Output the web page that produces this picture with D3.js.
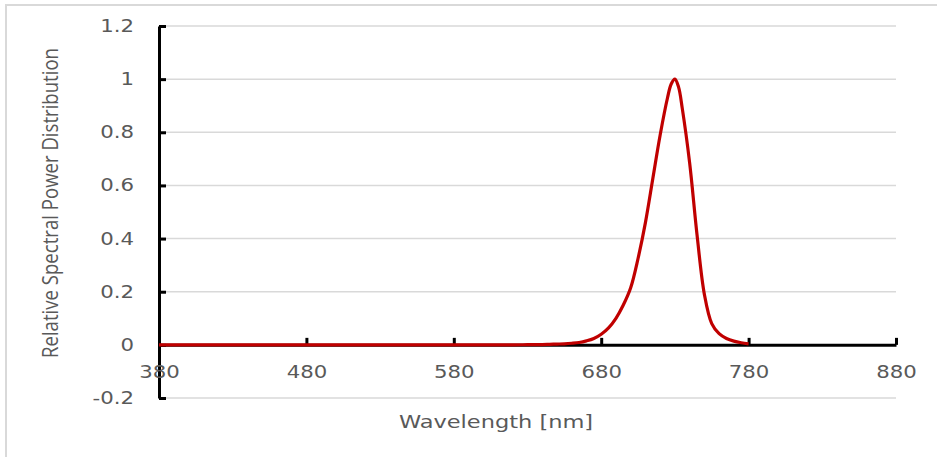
<!DOCTYPE html>
<html>
<head>
<meta charset="utf-8">
<script src="https://cdn.jsdelivr.net/npm/d3@7"></script>
<style>
  body { margin: 0; background: #fff; }
  svg { display: block; }
</style>
</head>
<body>
<script>
var w = 937;
var h = 457;

// spectrum (nm, relative power)
var wavelengths = [380, 480, 580, 620, 630, 640, 645, 650, 655, 660, 665, 670, 675, 680, 685, 690, 695, 700,
                   705, 710, 715, 720, 725, 727.5, 730, 732.5, 735, 740, 745, 750, 755, 760, 765, 770, 775, 780];
var power = [0, 0, 0, 0, 0.0005, 0.001, 0.002, 0.003, 0.004, 0.006, 0.009, 0.015, 0.024, 0.04, 0.064, 0.10, 0.15, 0.215,
             0.325, 0.46, 0.625, 0.79, 0.93, 0.982, 1.0, 0.97, 0.89, 0.685, 0.415, 0.19, 0.08, 0.042, 0.024, 0.014, 0.008, 0.004];

var xTicks = [380, 480, 580, 680, 780, 880];
var yTicks = [-0.2, 0, 0.2, 0.4, 0.6, 0.8, 1, 1.2];

var stretch = 1.25;   // picture text looks widened

var svg = d3.select("body").append("svg")
            .attr("width", w)
            .attr("height", h);

// outer frame
svg.append("rect")
   .attr("x", 6).attr("y", 5)
   .attr("width", w + 20).attr("height", h + 20)
   .attr("fill", "none")
   .attr("stroke", "#d9d9d9")
   .attr("stroke-width", 2);

var x = d3.scaleLinear().domain([380, 880]).range([159, 896]);
var y = d3.scaleLinear().domain([-0.2, 1.2]).range([398, 26]);

// gridlines
svg.append("g")
   .selectAll("line")
   .data(yTicks.filter(function(d){ return d !== 0; }))
   .enter()
   .append("line")
   .attr("x1", x(380)).attr("x2", x(880))
   .attr("y1", function(d){ return y(d); })
   .attr("y2", function(d){ return y(d); })
   .attr("stroke", "#d9d9d9")
   .attr("stroke-width", 1.5);

// y axis
var yAxis = svg.append("g")
   .attr("transform", "translate(" + x(380) + ",0)")
   .call(d3.axisLeft(y).tickValues(yTicks).tickSizeInner(-7).tickSizeOuter(0).tickPadding(25)
         .tickFormat(function(d){ return String(+d.toFixed(1)); }));

// x axis on the zero line
var xAxis = svg.append("g")
   .attr("transform", "translate(0," + y(0) + ")")
   .call(d3.axisBottom(x).tickValues(xTicks).tickSizeInner(-7).tickSizeOuter(0).tickPadding(21));

[yAxis, xAxis].forEach(function(a){
  a.select(".domain").attr("stroke", "#000").attr("stroke-width", 3);
  a.selectAll(".tick line").attr("stroke", "#000").attr("stroke-width", 3);
  a.selectAll(".tick text")
   .attr("fill", "#595959")
   .attr("font-family", "DejaVu Sans")
   .attr("font-size", 17);
});

yAxis.selectAll(".tick text")
     .attr("x", 0)
     .attr("transform", "translate(-25,0) scale(" + stretch + ",1)");
xAxis.selectAll(".tick text")
     .attr("y", 0)
     .attr("transform", "translate(0,21) scale(" + stretch + ",1)");

// spectrum
var line = d3.line()
             .x(function(d, i){ return x(wavelengths[i]); })
             .y(function(d){ return y(d); })
             .curve(d3.curveCatmullRom.alpha(0.5));

svg.append("path")
   .datum(power)
   .attr("d", line)
   .attr("fill", "none")
   .attr("stroke", "#c00000")
   .attr("stroke-width", 3.2)
   .attr("stroke-linejoin", "round");

// axis titles
svg.append("text")
   .text("Wavelength [nm]")
   .attr("transform", "translate(496,428) scale(" + stretch + ",1)")
   .attr("text-anchor", "middle")
   .attr("font-family", "DejaVu Sans")
   .attr("font-size", 18)
   .attr("fill", "#595959");

svg.append("text")
   .text("Relative Spectral Power Distribution")
   .attr("transform", "translate(58,203) scale(" + stretch + ",1) rotate(-90)")
   .attr("text-anchor", "middle")
   .attr("font-family", "Open Sans")
   .attr("font-size", 18)
   .attr("textLength", 310)
   .attr("lengthAdjust", "spacingAndGlyphs")
   .attr("fill", "#595959");
</script>
</body>
</html>
